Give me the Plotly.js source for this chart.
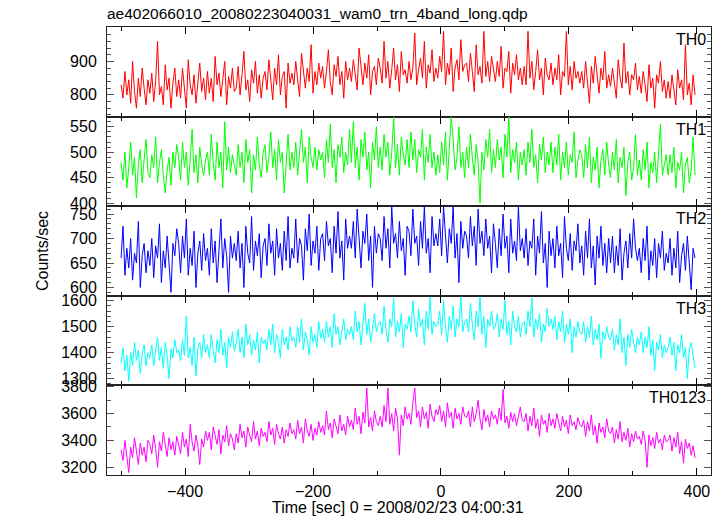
<!DOCTYPE html>
<html>
<head>
<meta charset="utf-8">
<script src="https://cdn.plot.ly/plotly-3.0.1.min.js"></script>
<style>html,body{margin:0;padding:0;background:#fff;}#chart{width:723px;height:516px;}</style>
</head>
<body>
<div id="chart"></div>
<script>
// Time bins (sec, relative to 2008/02/23 04:00:31)
const timeStart = -500;
const binSize = 3;

const bandNames = ['TH0', 'TH1', 'TH2', 'TH3', 'TH0123'];

const th0 = [
830,790,870,800,845,775,900,810,760,850,795,880,820,770,845,
805,865,780,840,960,800,825,770,890,815,850,760,835,880,795,
845,790,880,815,760,905,830,800,860,775,840,895,810,850,785,
870,805,850,780,915,830,865,795,840,900,770,855,820,880,810,
820,885,800,860,930,815,845,780,875,835,900,805,860,790,850,
870,815,905,840,785,880,830,920,800,855,870,760,895,835,865,
830,900,845,795,925,860,820,880,840,950,805,870,830,895,850,
885,820,870,935,840,800,890,855,915,830,870,790,900,845,880,
840,905,860,815,940,875,830,895,850,920,800,870,885,830,910,
880,835,960,850,900,820,875,940,845,890,810,930,860,875,835,
900,845,880,985,830,875,910,850,960,820,890,865,935,840,880,
850,915,870,990,830,895,860,940,810,880,905,845,965,870,890,
895,840,925,870,810,950,860,885,835,990,855,900,840,915,870,
840,900,855,945,820,880,870,930,805,895,860,920,845,880,830,
885,830,990,850,900,815,870,935,845,880,800,910,860,845,895,
830,880,845,920,800,870,855,990,830,885,815,900,850,870,835,
870,820,900,840,775,885,835,915,850,805,880,845,930,820,860,
825,880,840,790,905,850,820,955,835,870,800,860,845,895,815,
855,805,870,830,780,890,820,850,760,860,835,900,810,845,790,
840,790,860,805,770,875,820,845,785,950,800,835,770,860,800
];

const th1 = [
480,445,500,430,470,520,455,490,410,475,505,440,485,525,460,
450,495,470,530,440,480,505,455,420,465,490,435,500,470,515,
490,445,520,470,500,435,485,545,460,495,440,510,475,455,485,
500,455,535,480,445,520,470,500,430,560,465,510,460,495,475,
455,515,470,500,440,525,480,505,420,495,465,530,475,450,500,
515,460,490,540,470,505,445,525,480,500,420,490,535,465,500,
470,520,455,500,545,480,510,440,530,490,470,510,465,505,485,
500,450,525,480,555,470,505,440,515,490,530,460,500,475,545,
480,560,470,510,445,525,490,540,465,500,430,520,485,550,470,
510,465,535,490,520,455,500,570,470,515,455,530,495,475,525,
470,540,485,525,460,505,490,545,445,510,480,535,470,500,455,
495,460,520,475,540,445,505,570,525,465,490,550,470,500,450,
510,470,535,490,455,515,480,400,500,465,525,490,545,460,505,
470,525,485,510,450,535,490,570,460,505,480,520,445,500,475,
505,455,520,480,545,470,495,440,515,485,530,460,500,475,520,
460,510,475,535,445,500,470,520,455,495,480,540,450,485,505,
495,450,515,470,530,440,490,465,510,430,485,505,455,520,475,
450,500,465,525,440,490,470,510,415,480,500,445,470,535,455,
485,445,505,465,520,430,480,460,500,440,490,555,455,475,495,
455,495,460,510,430,480,465,500,420,475,490,440,465,530,455
];

const th2 = [
660,725,625,680,640,700,615,670,650,735,600,665,690,630,675,
645,700,620,685,660,730,610,675,640,705,655,590,690,665,720,
690,630,705,660,740,625,680,645,715,600,670,695,635,710,655,
680,625,720,650,695,610,675,740,640,700,665,590,705,660,690,
655,715,640,690,600,725,670,650,745,635,695,665,710,620,685,
700,645,730,670,695,625,720,660,690,635,715,655,745,640,680,
660,740,650,700,685,615,720,675,750,645,695,670,725,635,700,
710,655,735,685,700,630,725,670,755,660,695,615,740,680,705,
680,735,660,760,700,640,715,690,750,655,705,600,725,670,710,
700,655,745,680,720,640,765,690,710,660,735,675,700,625,725,
715,665,760,690,705,645,735,680,765,670,700,630,745,685,710,
685,740,665,765,700,650,720,690,765,660,710,610,735,680,715,
705,660,745,685,725,645,760,690,715,665,740,680,705,630,730,
690,640,720,665,750,680,705,630,740,670,695,655,765,675,700,
660,720,645,695,680,740,625,705,670,755,650,690,600,715,665,
700,640,725,665,690,620,745,680,655,710,635,695,675,730,650,
685,625,715,660,740,640,685,605,705,660,725,645,690,630,700,
650,705,630,685,645,720,615,670,695,640,710,660,740,680,655,
680,630,700,655,725,615,675,645,700,620,690,660,715,635,670,
650,700,625,680,640,715,610,665,690,635,705,655,595,680,660
];

const th3 = [
1360,1420,1330,1390,1290,1400,1350,1440,1370,1410,1320,1395,1430,1350,1400,
1380,1430,1350,1410,1460,1370,1420,1340,1440,1390,1300,1415,1380,1450,1400,
1410,1370,1450,1390,1540,1380,1420,1350,1460,1310,1415,1440,1380,1470,1400,
1430,1380,1470,1410,1360,1450,1400,1490,1390,1440,1340,1460,1420,1480,1405,
1440,1490,1400,1460,1380,1510,1430,1470,1390,1450,1410,1480,1360,1460,1435,
1450,1410,1490,1430,1510,1400,1470,1440,1380,1490,1430,1460,1410,1500,1445,
1460,1420,1500,1440,1530,1410,1480,1450,1390,1500,1440,1470,1420,1520,1455,
1490,1440,1520,1460,1500,1420,1550,1470,1500,1430,1480,1530,1450,1490,1470,
1500,1450,1560,1480,1520,1430,1510,1590,1470,1530,1440,1500,1550,1480,1510,
1520,1470,1580,1490,1440,1530,1500,1610,1460,1520,1480,1550,1420,1510,1490,
1540,1480,1600,1510,1460,1570,1500,1530,1430,1560,1490,1615,1470,1520,1500,
1510,1560,1470,1600,1500,1440,1540,1490,1580,1460,1530,1500,1615,1480,1520,
1530,1480,1590,1510,1450,1560,1500,1615,1470,1540,1420,1530,1500,1560,1490,
1500,1550,1460,1530,1490,1600,1470,1520,1430,1560,1500,1480,1540,1460,1510,
1520,1470,1560,1500,1610,1460,1530,1490,1550,1440,1510,1480,1570,1500,1530,
1490,1540,1450,1520,1480,1560,1440,1510,1470,1530,1400,1500,1460,1520,1480,
1470,1520,1440,1500,1460,1540,1430,1490,1450,1510,1380,1480,1450,1500,1460,
1450,1490,1410,1470,1430,1530,1400,1460,1350,1470,1420,1490,1440,1400,1460,
1430,1480,1400,1460,1420,1500,1390,1450,1330,1440,1410,1470,1380,1430,1400,
1420,1460,1390,1440,1330,1430,1400,1470,1380,1420,1300,1410,1440,1380,1340
];

const th0123 = [
3330,3250,3400,3300,3160,3350,3270,3420,3310,3220,3380,3290,3350,3240,3400,
3370,3300,3440,3340,3200,3390,3320,3460,3350,3280,3420,3330,3390,3290,3430,
3370,3300,3460,3350,3410,3280,3520,3390,3320,3440,3360,3220,3410,3350,3470,
3400,3460,3330,3500,3420,3370,3480,3300,3440,3390,3510,3360,3450,3410,3330,
3450,3380,3520,3420,3470,3350,3500,3440,3390,3540,3410,3470,3360,3490,3430,
3460,3390,3540,3440,3490,3370,3520,3450,3410,3500,3380,3480,3430,3530,3450,
3480,3410,3550,3450,3500,3380,3560,3470,3430,3520,3400,3490,3440,3540,3460,
3510,3440,3620,3480,3530,3420,3560,3500,3450,3590,3470,3520,3440,3580,3500,
3550,3480,3640,3520,3580,3450,3610,3530,3790,3500,3570,3470,3620,3540,3510,
3580,3500,3660,3540,3790,3520,3600,3470,3640,3560,3290,3590,3510,3650,3560,
3600,3520,3680,3790,3570,3620,3500,3650,3560,3610,3490,3670,3580,3540,3630,
3590,3660,3540,3620,3500,3680,3570,3610,3490,3640,3560,3600,3520,3650,3580,
3570,3620,3500,3650,3540,3600,3700,3560,3480,3630,3540,3590,3500,3620,3560,
3590,3520,3640,3550,3780,3530,3580,3490,3610,3540,3600,3510,3570,3650,3550,
3540,3600,3470,3580,3510,3640,3490,3560,3430,3590,3520,3550,3460,3600,3510,
3560,3490,3600,3520,3470,3580,3500,3550,3450,3590,3510,3540,3480,3570,3520,
3500,3550,3430,3540,3470,3590,3440,3510,3380,3530,3460,3500,3420,3560,3470,
3450,3500,3380,3480,3410,3540,3390,3460,3400,3490,3350,3450,3390,3470,3410,
3430,3370,3470,3400,3200,3440,3360,3420,3340,3460,3380,3410,3330,3440,3390,
3400,3440,3320,3420,3350,3460,3300,3390,3230,3410,3340,3380,3290,3360,3270
];

const series = [th0, th1, th2, th3, th0123];
const time = th0.map((_, i) => timeStart + i * binSize);

// tick labels per panel
const yTickVals = [[800, 900], [400, 450, 500, 550], [600, 650, 700, 750], [1300, 1400, 1500, 1600], [3200, 3400, 3600, 3800]];
const xTickVals = [-400, -200, 0, 200, 400];

// styling / axis config
const colors = ['#ff0000', '#00ff00', '#0000ff', '#00ffff', '#ff00ff'];
const yRanges = [[735, 1003], [394, 570], [583, 766], [1274, 1619], [3142, 3810]];
const yMinor = [20, 10, 10, 20, 100];
const xRange = [-522, 422];

const fontFam = '"Liberation Sans", Arial, Helvetica, sans-serif';
const fs = 16;
const n = series.length;
const traces = [];
const layout = {
  width: 723, height: 516,
  margin: {l: 107, r: 12, t: 27, b: 41},
  paper_bgcolor: '#fff', plot_bgcolor: '#fff',
  showlegend: false,
  font: {family: fontFam, size: fs, color: '#000'},
  title: {
    text: 'ae402066010_20080223040031_wam0_trn_4band_long.qdp',
    xref: 'container', yref: 'container',
    x: 107 / 723, xanchor: 'left',
    y: 1 - 14 / 516, yanchor: 'middle',
    font: {family: fontFam, size: 15.5, color: '#000'}
  },
  annotations: []
};

for (let k = 0; k < n; k++) {
  const sfx = k === 0 ? '' : String(k + 1);
  traces.push({
    type: 'scatter', mode: 'lines',
    x: time, y: series[k],
    xaxis: 'x' + sfx, yaxis: 'y' + sfx,
    line: {color: colors[k], width: 1},
    hoverinfo: 'skip'
  });
  const top = 1 - k / n, bot = 1 - (k + 1) / n;
  layout['yaxis' + sfx] = {
    domain: [bot, top],
    anchor: 'x' + sfx,
    range: yRanges[k],
    tickmode: 'array', tickvals: yTickVals[k],
    ticks: 'inside', ticklen: 7, tickwidth: 1, tickcolor: '#555',
    minor: {ticks: 'inside', ticklen: 4, dtick: yMinor[k], tick0: 0, tickcolor: '#555', tickwidth: 1},
    showline: true, linecolor: '#222', linewidth: 1, mirror: 'allticks',
    showgrid: false, zeroline: false,
    ticklabelstandoff: 6,
    tickfont: {family: fontFam, size: fs, color: '#000'},
    fixedrange: true
  };
  layout['xaxis' + sfx] = {
    anchor: 'y' + sfx,
    range: xRange,
    tickmode: 'array', tickvals: xTickVals,
    ticks: 'inside', ticklen: 7, tickwidth: 1, tickcolor: '#000',
    minor: {ticks: 'inside', ticklen: 4, dtick: 100, tick0: 0, tickcolor: '#000', tickwidth: 1},
    showline: true, linecolor: '#222', linewidth: 1, mirror: 'allticks',
    showgrid: false, zeroline: false,
    showticklabels: k === n - 1,
    tickfont: {family: fontFam, size: fs, color: '#000'},
    ticklabelstandoff: 2,
    fixedrange: true
  };
  if (k > 0) layout['xaxis' + sfx].matches = 'x';
  layout.annotations.push({
    text: bandNames[k], xref: 'paper', yref: 'paper',
    x: 1, xanchor: 'right', xshift: -3,
    y: top, yanchor: 'top', yshift: -2,
    showarrow: false,
    font: {family: fontFam, size: fs, color: '#000'}
  });
}

layout.annotations.push({
  text: 'Counts/sec', xref: 'paper', yref: 'paper',
  x: (42 - 107) / 604, y: 0.5, xanchor: 'center', yanchor: 'middle',
  textangle: -90, showarrow: false,
  font: {family: fontFam, size: fs, color: '#000'}
});
layout.annotations.push({
  text: 'Time [sec] 0 = 2008/02/23 04:00:31', xref: 'paper', yref: 'paper',
  x: (398 - 107) / 604, y: (475 - 507) / 448, xanchor: 'center', yanchor: 'middle',
  showarrow: false,
  font: {family: fontFam, size: fs, color: '#000'}
});

Plotly.newPlot('chart', traces, layout, {displayModeBar: false, staticPlot: true});
</script>
</body>
</html>
